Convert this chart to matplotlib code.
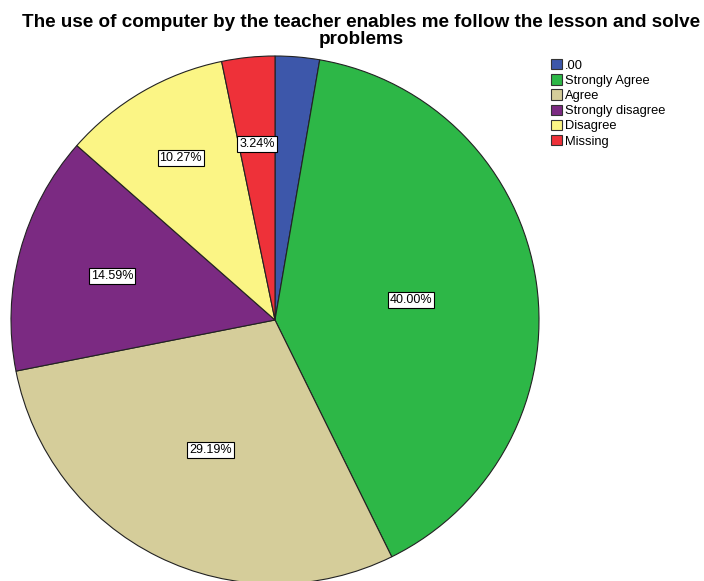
import numpy as np
import matplotlib.pyplot as plt

plt.rcParams['font.family'] = ['Liberation Sans', 'DejaVu Sans']

categories = ['.00', 'Strongly Agree', 'Agree', 'Strongly disagree', 'Disagree', 'Missing']
percents = [2.71, 40.00, 29.19, 14.59, 10.27, 3.24]
colors = ['#3D57AA', '#2DB747', '#D5CD9A', '#7B2A82', '#FBF585', '#EE3139']
# radial distance of each value label (fraction of radius), None = no label
label_dist = [None, 0.52, 0.55, 0.64, 0.71, 0.67]

fig = plt.figure(figsize=(7.04, 5.81), dpi=100)
ax = fig.add_axes([11 / 704, -3 / 581, 528 / 704, 528 / 581])

wedges, _ = ax.pie(percents, colors=colors, startangle=90, counterclock=False,
                   radius=1, wedgeprops=dict(edgecolor='#222222', linewidth=0.8))
ax.set_xlim(-1, 1)
ax.set_ylim(-1, 1)
ax.set_aspect('equal')
ax.axis('off')

# value labels in white boxes
for w, p, d in zip(wedges, percents, label_dist):
    if d is None:
        continue
    ang = np.deg2rad((w.theta1 + w.theta2) / 2)
    ax.text(d * np.cos(ang), d * np.sin(ang), '%.2f%%' % p, ha='center', va='center',
            fontsize=9,
            bbox=dict(boxstyle='square,pad=0.15', fc='white', ec='black', lw=0.8))

fig.suptitle('The use of computer by the teacher enables me follow the lesson and solve\nproblems',
             x=0.513, y=0.976, fontsize=13.6, fontweight='bold', linespacing=1.0)

handles = [plt.Rectangle((0, 0), 1, 1, fc=c, ec='#333333', lw=0.8) for c in colors]
fig.legend(handles, categories, loc='upper left', bbox_to_anchor=(551 / 704, 1 - 59 / 581),
           frameon=False, fontsize=9.3, handlelength=0.85, handleheight=0.85,
           handletextpad=0.2, labelspacing=0.2, borderaxespad=0, borderpad=0)

fig.savefig('out.png', dpi=100)
